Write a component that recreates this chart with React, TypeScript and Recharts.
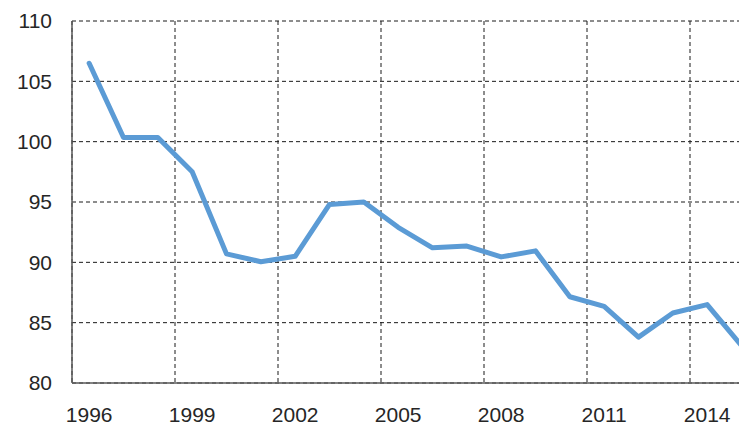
import React from 'react';
import {
  LineChart,
  Line,
  XAxis,
  YAxis,
  CartesianGrid,
} from 'recharts';

// Years and index values
const years = [
  1996, 1997, 1998, 1999, 2000, 2001, 2002, 2003, 2004, 2005,
  2006, 2007, 2008, 2009, 2010, 2011, 2012, 2013, 2014, 2015,
];
const values = [
  106.5, 100.35, 100.35, 97.5, 90.7, 90.05, 90.5, 94.8, 95.0, 92.9,
  91.2, 91.35, 90.45, 90.95, 87.15, 86.35, 83.8, 85.8, 86.5, 83.1,
];
const xLabelTicks = [1996, 1999, 2002, 2005, 2008, 2011, 2014];
// vertical grid lines sit between categories (every 3rd boundary)
const xGridTicks = [1998.5, 2001.5, 2004.5, 2007.5, 2010.5, 2013.5];
const yTicks = [80, 85, 90, 95, 100, 105, 110];

const data = years.map((year, i) => ({ year, value: values[i] }));

const xDomain: [number, number] = [1995.5, 2015.16];
const font = '"Liberation Sans", Arial, sans-serif';
const textColor = '#262626';

export default function App() {
  return (
    <LineChart
      width={739}
      height={417}
      data={data}
      margin={{ top: 13, right: 0, bottom: 0, left: 0 }}
    >
      <XAxis
        xAxisId="main"
        dataKey="year"
        type="number"
        domain={xDomain}
        ticks={xLabelTicks}
        allowDataOverflow
        height={42}
        tickLine={false}
        tickSize={0}
        tickMargin={24}
        axisLine={{ stroke: '#595959', strokeWidth: 1.5 }}
        tick={{ fill: textColor, fontSize: 21, fontFamily: font }}
      />
      {/* hidden axis only used to place the dashed vertical grid lines */}
      <XAxis
        xAxisId="grid"
        orientation="top"
        dataKey="year"
        type="number"
        domain={xDomain}
        ticks={xGridTicks}
        allowDataOverflow
        hide
      />
      <CartesianGrid
        xAxisId="grid"
        stroke="#1a1a1a"
        strokeDasharray="4 3"
        strokeWidth={1}
      />
      <YAxis
        domain={[80, 110]}
        ticks={yTicks}
        width={64}
        tickLine={false}
        tickSize={0}
        tickMargin={20}
        axisLine={{ stroke: '#595959', strokeWidth: 1.5 }}
        tick={{ fill: textColor, fontSize: 21, fontFamily: font }}
      />
      <Line
        xAxisId="main"
        type="linear"
        dataKey="value"
        stroke="#5B9BD5"
        strokeWidth={5}
        strokeLinejoin="round"
        strokeLinecap="round"
        dot={false}
        isAnimationActive={false}
      />
    </LineChart>
  );
}
